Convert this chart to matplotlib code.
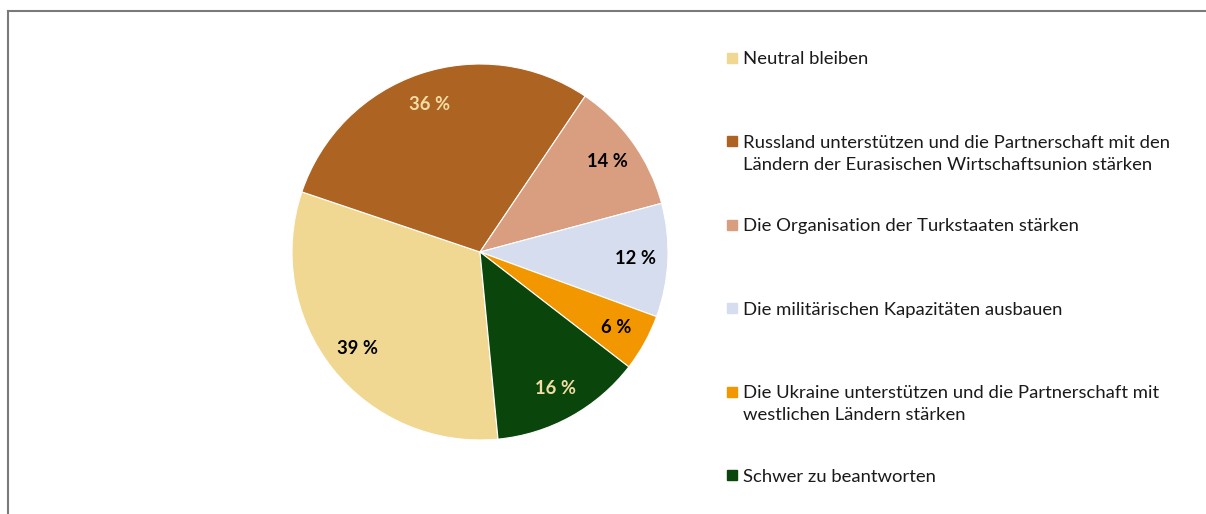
import numpy as np
import matplotlib.pyplot as plt
from matplotlib.patches import Rectangle
from matplotlib.lines import Line2D

plt.rcParams['font.family'] = ['Lato', 'DejaVu Sans']

# data
labels = ["Neutral bleiben",
          "Russland unterstützen und die Partnerschaft mit den\nLändern der Eurasischen Wirtschaftsunion stärken",
          "Die Organisation der Turkstaaten stärken",
          "Die militärischen Kapazitäten ausbauen",
          "Die Ukraine unterstützen und die Partnerschaft mit\nwestlichen Ländern stärken",
          "Schwer zu beantworten"]
values = [39, 36, 14, 12, 6, 16]
colors = ["#F0D893", "#AD6321", "#D99E80", "#D5DDEE", "#F39700", "#0A460B"]
label_colors = ["black", "#F2DDA4", "black", "black", "black", "#F2DDA4"]

W, H = 1206, 514
fig = plt.figure(figsize=(W / 100, H / 100), dpi=100)

# frame (left and top edges visible)
fig.add_artist(Line2D([8 / W, 8 / W], [0, 1 - 11 / H], color="#7a7a7a", lw=1.5))
fig.add_artist(Line2D([8 / W, 1], [1 - 11 / H, 1 - 11 / H], color="#7a7a7a", lw=1.5))

# pie
cx, cy, r = 480, 252, 188
ax = fig.add_axes([(cx - r) / W, (H - cy - r) / H, 2 * r / W, 2 * r / H])
wedges, _ = ax.pie(values, colors=colors, startangle=-84.5, counterclock=False,
                   wedgeprops=dict(edgecolor="white", linewidth=0.8))
ax.set_xlim(-1, 1)
ax.set_ylim(-1, 1)
ax.set_aspect("equal")
ax.axis("off")

for w, v, lc in zip(wedges, values, label_colors):
    ang = np.deg2rad((w.theta1 + w.theta2) / 2)
    ax.text(0.83 * np.cos(ang), 0.83 * np.sin(ang), f"{v} %", ha="center", va="center",
            fontsize=13.2, fontweight="bold", color=lc)

# legend, placed by hand like the original
x0, y0, step, lh = 727, 58, 83.4, 22
for i, (lab, c) in enumerate(zip(labels, colors)):
    y = y0 + i * step
    fig.add_artist(Rectangle((x0 / W, (H - y - 5) / H), 10 / W, 10 / H, color=c,
                             transform=fig.transFigure))
    for k, line in enumerate(lab.split("\n")):
        fig.text(743 / W, (H - y - k * lh) / H, line, ha="left", va="center_baseline",
                 fontsize=13.3, color="#1a1a1a")

fig.savefig("out.png", dpi=100)
